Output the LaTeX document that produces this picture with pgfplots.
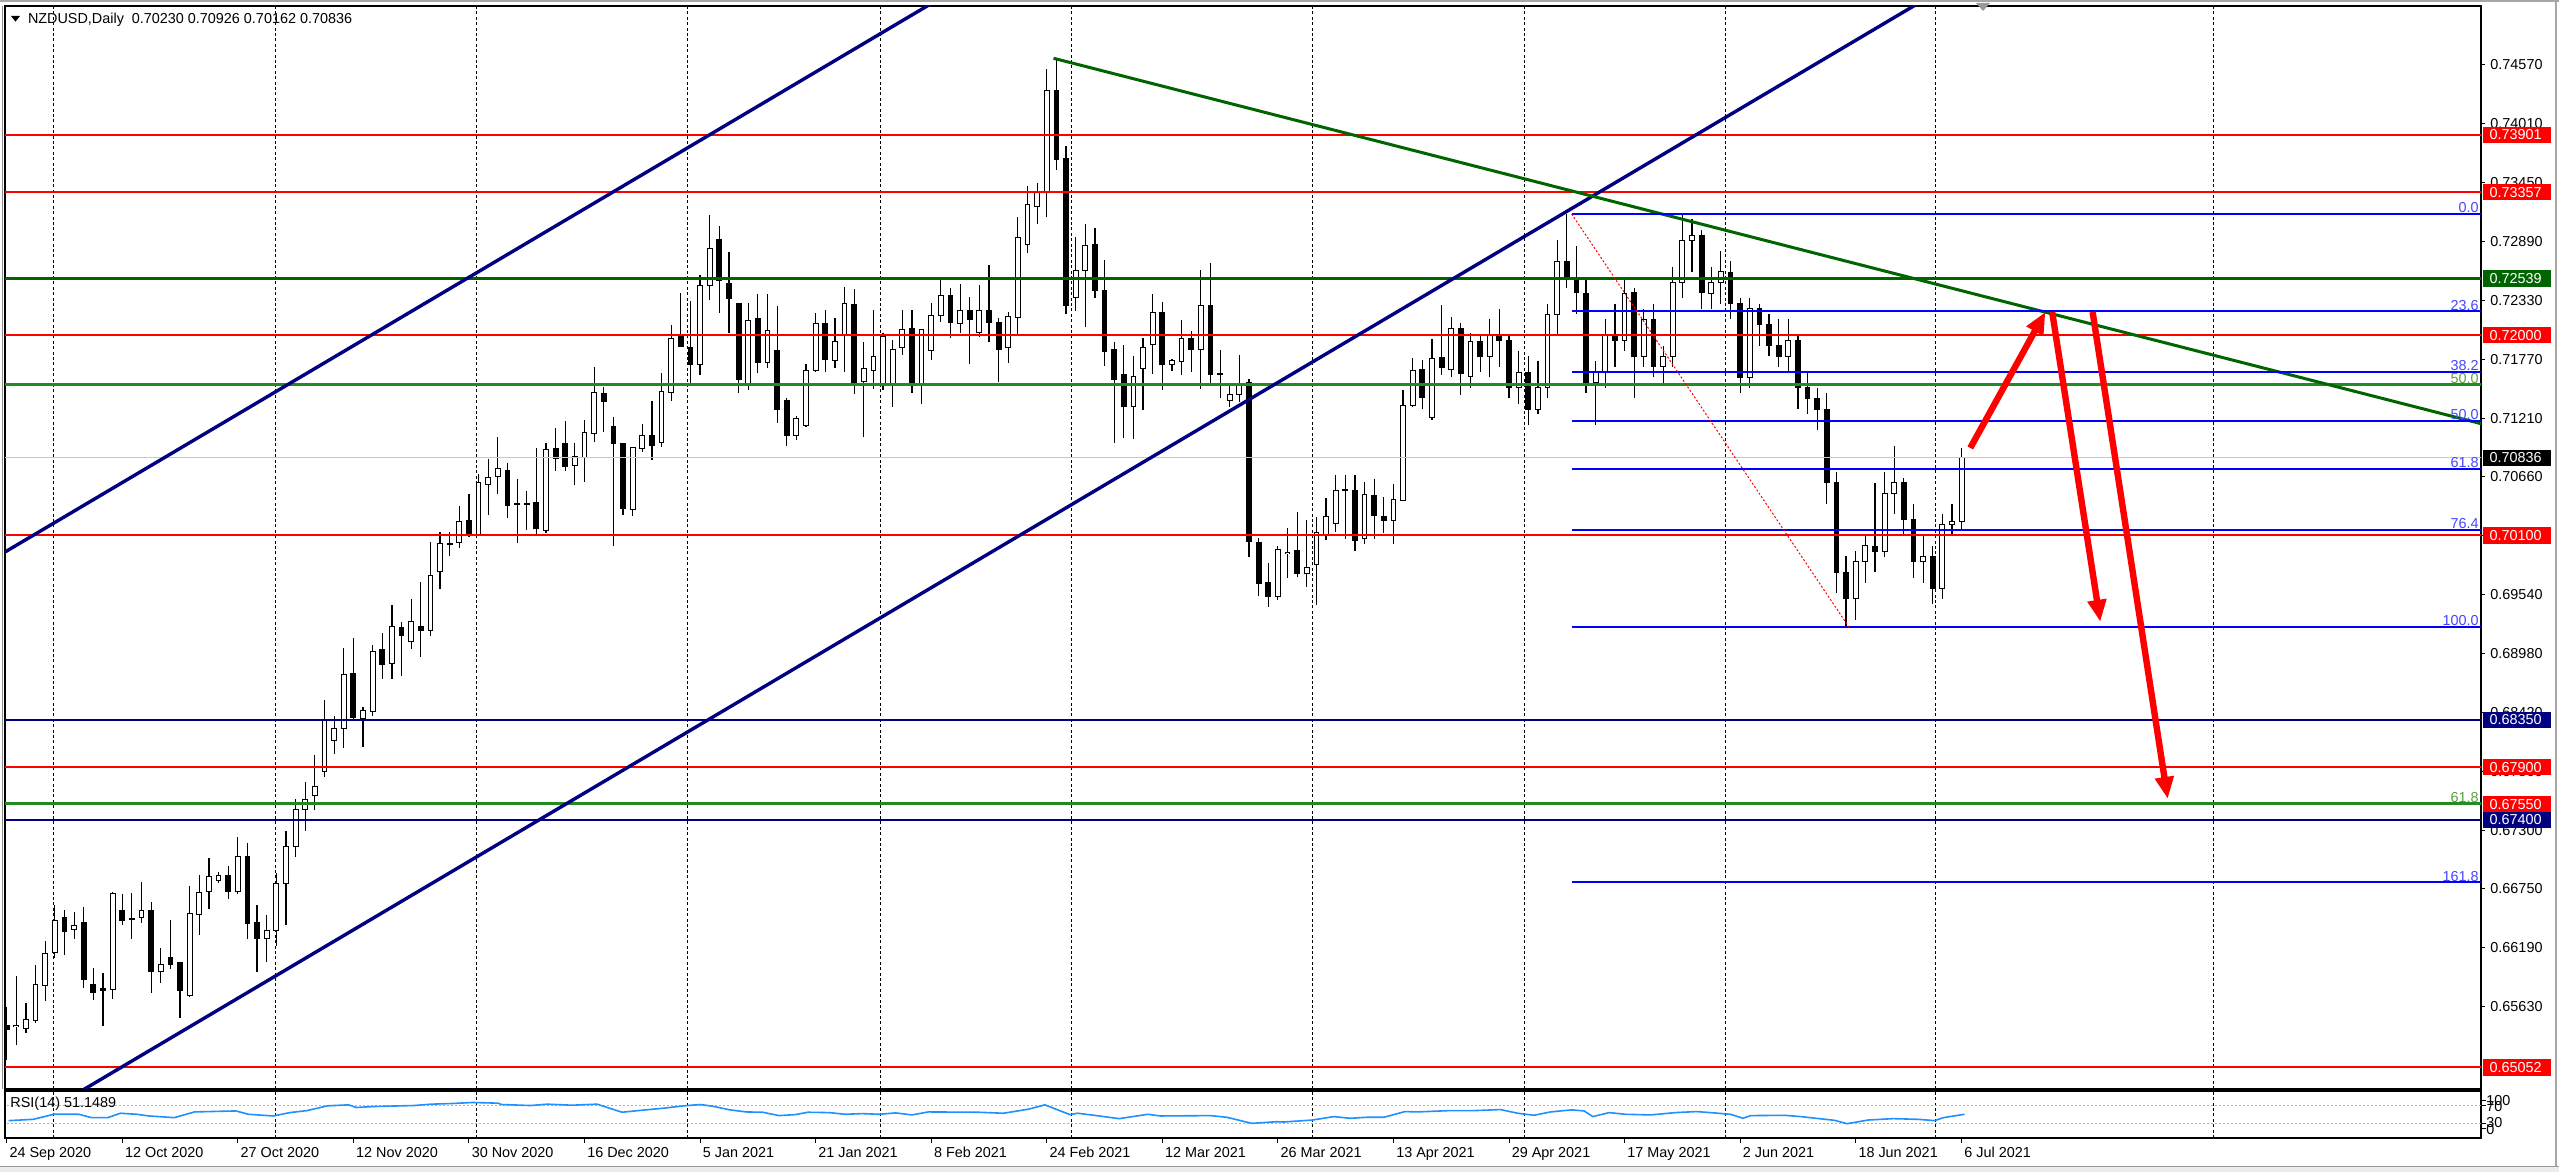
\documentclass[border=0pt]{standalone}
\usepackage{fontspec}
\setmainfont{Liberation Sans}
\usepackage{pgfplots}
\usepackage{pgfplotstable}
\pgfplotsset{compat=1.18}
\usetikzlibrary{arrows.meta}

\definecolor{mtnavy}{RGB}{0,0,128}
\definecolor{mtdkgreen}{RGB}{0,100,0}
\definecolor{mtgreen}{RGB}{34,139,34}
\definecolor{fibblue}{RGB}{0,0,255}
\definecolor{fibtxt}{RGB}{70,70,255}
\definecolor{fibgreen}{RGB}{90,160,60}
\definecolor{rsiblue}{RGB}{30,144,255}
\definecolor{pricegray}{RGB}{200,200,200}

\newcommand{\lab}{\fontsize{7.2}{8}\selectfont}

\pgfplotstableread{
i o h l c
0 0.65455 0.65629 0.65123 0.65414
1 0.65439 0.65920 0.65265 0.65452
2 0.65423 0.65667 0.65376 0.65508
3 0.65502 0.66021 0.65477 0.65841
4 0.65834 0.66252 0.65682 0.66135
5 0.66144 0.66593 0.66087 0.66451
6 0.66476 0.66546 0.66119 0.66347
7 0.66362 0.66530 0.66271 0.66404
8 0.66429 0.66578 0.65809 0.65891
9 0.65841 0.65999 0.65692 0.65765
10 0.65803 0.65954 0.65445 0.65780
11 0.65793 0.66720 0.65698 0.66704
12 0.66546 0.66695 0.66404 0.66451
13 0.66464 0.66704 0.66268 0.66454
14 0.66473 0.66815 0.66426 0.66540
15 0.66546 0.66625 0.65755 0.65961
16 0.65961 0.66182 0.65856 0.66030
17 0.66100 0.66457 0.65992 0.66030
18 0.66046 0.66056 0.65518 0.65780
19 0.65739 0.66777 0.65723 0.66511
20 0.66508 0.66878 0.66315 0.66713
21 0.66726 0.67036 0.66552 0.66862
22 0.66827 0.66910 0.66805 0.66875
23 0.66872 0.66967 0.66653 0.66720
24 0.66720 0.67242 0.66698 0.67055
25 0.67055 0.67178 0.66268 0.66416
26 0.66429 0.66593 0.65961 0.66277
27 0.66280 0.66500 0.66050 0.66350
28 0.66350 0.66900 0.66200 0.66800
29 0.66800 0.67300 0.66400 0.67150
30 0.67150 0.67600 0.67050 0.67500
31 0.67500 0.67764 0.67300 0.67600
32 0.67631 0.68017 0.67500 0.67717
33 0.67865 0.68539 0.67805 0.68343
34 0.68159 0.68387 0.68027 0.68270
35 0.68264 0.69029 0.68080 0.68776
36 0.68792 0.69130 0.68343 0.68371
37 0.68365 0.68476 0.68090 0.68438
38 0.68428 0.69061 0.68390 0.69004
39 0.69014 0.69178 0.68739 0.68878
40 0.68887 0.69440 0.68739 0.69241
41 0.69228 0.69282 0.68770 0.69149
42 0.69092 0.69494 0.69020 0.69282
43 0.69241 0.69662 0.68950 0.69203
44 0.69203 0.70041 0.69146 0.69719
45 0.69763 0.70130 0.69589 0.70025
46 0.70019 0.70130 0.69905 0.70025
47 0.70035 0.70383 0.69978 0.70231
48 0.70247 0.70494 0.70082 0.70111
49 0.70111 0.70683 0.70095 0.70604
50 0.70585 0.70822 0.70294 0.70652
51 0.70664 0.71037 0.70490 0.70731
52 0.70721 0.70784 0.70263 0.70389
53 0.70405 0.70636 0.70032 0.70398
54 0.70398 0.70525 0.70152 0.70405
55 0.70414 0.70927 0.70105 0.70168
56 0.70152 0.70980 0.70120 0.70920
57 0.70920 0.71123 0.70715 0.70832
58 0.70968 0.71189 0.70715 0.70753
59 0.70762 0.70973 0.70578 0.70847
60 0.70841 0.71195 0.70610 0.71075
61 0.71068 0.71701 0.70989 0.71454
62 0.71442 0.71511 0.71084 0.71366
63 0.71132 0.71227 0.70000 0.70967
64 0.70973 0.70980 0.70294 0.70357
65 0.70351 0.70942 0.70285 0.70936
66 0.70927 0.71154 0.70889 0.71047
67 0.71053 0.71376 0.70816 0.70958
68 0.70980 0.71638 0.70942 0.71464
69 0.71461 0.72102 0.71378 0.71970
70 0.71992 0.72397 0.71890 0.71897
71 0.71881 0.72324 0.71527 0.71720
72 0.71723 0.72571 0.71622 0.72469
73 0.72476 0.73140 0.72333 0.72824
74 0.72903 0.73035 0.72216 0.72523
75 0.72492 0.72792 0.72017 0.72349
76 0.72302 0.72311 0.71448 0.71581
77 0.71543 0.72302 0.71480 0.72144
78 0.72159 0.72387 0.71638 0.71739
79 0.71742 0.72387 0.71685 0.72042
80 0.71850 0.72280 0.71163 0.71290
81 0.71385 0.71400 0.70948 0.71046
82 0.71046 0.71230 0.71005 0.71208
83 0.71148 0.71726 0.71132 0.71663
84 0.71663 0.72213 0.71653 0.72109
85 0.72112 0.72238 0.71653 0.71774
86 0.71758 0.72159 0.71685 0.71938
87 0.72008 0.72460 0.71647 0.72302
88 0.72292 0.72435 0.71442 0.71552
89 0.71559 0.71938 0.71037 0.71685
90 0.71663 0.72238 0.71486 0.71802
91 0.71543 0.72017 0.71480 0.71985
92 0.71543 0.71954 0.71321 0.71868
93 0.71881 0.72238 0.71812 0.72055
94 0.72065 0.72238 0.71448 0.71543
95 0.71543 0.72049 0.71347 0.72049
96 0.71859 0.72302 0.71764 0.72191
97 0.72191 0.72530 0.72128 0.72381
98 0.72381 0.72444 0.71970 0.72118
99 0.72112 0.72485 0.72023 0.72232
100 0.72232 0.72359 0.71732 0.72153
101 0.72027 0.72476 0.71985 0.72232
102 0.72232 0.72665 0.71938 0.72118
103 0.72118 0.72159 0.71558 0.71865
104 0.71881 0.72223 0.71739 0.72175
105 0.72166 0.73124 0.72001 0.72928
106 0.72861 0.73415 0.72785 0.73244
107 0.73225 0.73440 0.73051 0.73361
108 0.73355 0.74522 0.73117 0.74326
109 0.74326 0.74626 0.73573 0.73668
110 0.73677 0.73794 0.72200 0.72286
111 0.72355 0.72934 0.72232 0.72618
112 0.72618 0.73054 0.72074 0.72849
113 0.72861 0.73019 0.72349 0.72428
114 0.72428 0.72713 0.71707 0.71843
115 0.71859 0.71938 0.70973 0.71580
116 0.71631 0.71906 0.71027 0.71321
117 0.71321 0.71802 0.71014 0.71606
118 0.71685 0.71970 0.71290 0.71881
119 0.71916 0.72396 0.71631 0.72213
120 0.72213 0.72317 0.71479 0.71723
121 0.71723 0.71770 0.71663 0.71758
122 0.71754 0.72143 0.71622 0.71970
123 0.71970 0.72042 0.71647 0.71865
124 0.71865 0.72624 0.71495 0.72279
125 0.72279 0.72681 0.71543 0.71628
126 0.71634 0.71859 0.71400 0.71622
127 0.71378 0.71520 0.71321 0.71438
128 0.71442 0.71812 0.71362 0.71543
129 0.71549 0.71581 0.69892 0.70040
130 0.70034 0.70072 0.69525 0.69645
131 0.69652 0.69841 0.69418 0.69525
132 0.69525 0.70000 0.69487 0.69968
133 0.69924 0.70167 0.69693 0.69936
134 0.69955 0.70325 0.69702 0.69740
135 0.69740 0.70246 0.69614 0.69797
136 0.69829 0.70278 0.69440 0.70126
137 0.70113 0.70461 0.70063 0.70278
138 0.70214 0.70673 0.70135 0.70531
139 0.70540 0.70673 0.70063 0.70524
140 0.70531 0.70673 0.69952 0.70056
141 0.70072 0.70610 0.70018 0.70493
142 0.70483 0.70641 0.70072 0.70294
143 0.70278 0.70468 0.70120 0.70240
144 0.70240 0.70585 0.70018 0.70445
145 0.70436 0.71479 0.70430 0.71337
146 0.71337 0.71780 0.71321 0.71669
147 0.71669 0.71764 0.71296 0.71410
148 0.71217 0.71963 0.71195 0.71780
149 0.71789 0.72286 0.71622 0.71695
150 0.71676 0.72169 0.71600 0.72065
151 0.72065 0.72112 0.71432 0.71638
152 0.71612 0.72017 0.71495 0.71938
153 0.71940 0.72000 0.71650 0.71800
154 0.71800 0.72150 0.71600 0.72000
155 0.72000 0.72250 0.71700 0.71950
156 0.71950 0.72000 0.71400 0.71500
157 0.71500 0.71850 0.71350 0.71650
158 0.71650 0.71800 0.71150 0.71300
159 0.71300 0.71750 0.71250 0.71500
160 0.71500 0.72300 0.71400 0.72200
161 0.72200 0.72900 0.72000 0.72700
162 0.72700 0.73150 0.72450 0.72550
163 0.72550 0.72850 0.72200 0.72400
164 0.72400 0.72550 0.71450 0.71550
165 0.71550 0.71750 0.71150 0.71650
166 0.71650 0.72150 0.71500 0.72000
167 0.72000 0.72300 0.71700 0.71950
168 0.71950 0.72550 0.71850 0.72400
169 0.72400 0.72450 0.71400 0.71800
170 0.71800 0.72250 0.71700 0.72150
171 0.72150 0.72300 0.71600 0.71700
172 0.71700 0.71900 0.71550 0.71800
173 0.71800 0.72650 0.71700 0.72500
174 0.72500 0.73160 0.72350 0.72900
175 0.72900 0.73100 0.72600 0.72950
176 0.72950 0.73000 0.72250 0.72400
177 0.72400 0.72650 0.72250 0.72500
178 0.72500 0.72800 0.72300 0.72600
179 0.72600 0.72700 0.72150 0.72300
180 0.72300 0.72350 0.71450 0.71600
181 0.71600 0.72350 0.71500 0.72250
182 0.72250 0.72300 0.71900 0.72100
183 0.72100 0.72200 0.71800 0.71900
184 0.71900 0.72150 0.71700 0.71800
185 0.71800 0.72150 0.71650 0.71950
186 0.71950 0.72000 0.71300 0.71500
187 0.71500 0.71650 0.71250 0.71400
188 0.71400 0.71500 0.71100 0.71300
189 0.71300 0.71450 0.70400 0.70600
190 0.70600 0.70700 0.69550 0.69750
191 0.69750 0.69900 0.69230 0.69500
192 0.69500 0.69950 0.69300 0.69850
193 0.69850 0.70100 0.69650 0.70000
194 0.70000 0.70600 0.69750 0.69950
195 0.69950 0.70700 0.69900 0.70500
196 0.70500 0.70950 0.70300 0.70600
197 0.70600 0.70650 0.70100 0.70250
198 0.70250 0.70400 0.69700 0.69850
199 0.69850 0.70100 0.69650 0.69900
200 0.69900 0.70000 0.69450 0.69600
201 0.69600 0.70300 0.69500 0.70200
202 0.70200 0.70400 0.70100 0.70230
203 0.70230 0.70926 0.70162 0.70836
}\candles

\pgfplotstableread{
i v
0.2 36.7
2.75 39.6
4.9 50.7
7.5 50.7
8.8 43.3
10.5 43.3
11.8 53.0
13.5 50.7
14.8 47.0
17.4 43.3
19.5 55.9
23.8 58.1
25.1 50.7
27.7 47.0
29.4 54.4
31.2 58.9
33.3 69.3
35.5 71.5
36.3 65.6
38.1 67.8
42.3 70.0
44.1 73.0
46.2 74.4
48.4 76.7
51.0 75.2
51.4 72.2
54.4 70.0
56.1 73.0
58.7 70.7
61.3 73.0
63.9 55.2
65.6 58.9
68.2 64.1
70.3 69.3
72.0 72.2
73.3 68.5
75.1 60.4
76.8 55.9
78.5 55.2
80.2 47.8
81.9 50.0
83.2 55.2
85.4 54.4
87.1 50.7
88.8 52.2
90.6 50.7
92.3 53.7
94.0 49.3
95.7 55.9
100.9 55.2
103.5 53.0
106.1 61.9
107.8 71.5
110.4 50.0
111.2 53.0
112.9 48.5
115.5 41.1
118.5 50.7
119.8 47.0
125.0 47.8
126.7 44.1
129.3 30.7
131.9 34.4
132.6 33.7
135.6 38.1
137.8 45.6
139.5 41.9
141.2 44.1
143.0 44.1
145.2 56.7
146.5 55.9
149.9 58.9
152.5 58.9
155.1 61.1
156.9 53.0
158.6 48.5
160.3 55.9
162.5 60.4
163.8 58.1
164.7 45.6
166.4 54.4
168.1 50.7
170.7 49.3
173.3 54.4
175.5 56.7
177.7 53.0
179.0 50.7
180.3 41.9
181.1 47.8
184.6 48.5
186.3 45.6
189.8 37.4
191.1 30.0
193.3 38.1
195.9 41.1
198.5 39.6
200.2 36.7
201.1 43.3
203.3 50.7
}\rsi

\newcommand{\pbox}[3]{\node[anchor=west, fill=#2, text=white, font=\lab, inner xsep=3.5pt, inner ysep=0pt, minimum height=8.2pt, text width=27pt, align=left, xshift=0.6pt] at (#1) {#3};}

\begin{document}
\begin{tikzpicture}
\path[use as bounding box] (0pt,0pt) rectangle (1279.5pt,586pt);
\fill[white] (0pt,0pt) rectangle (1279.5pt,586pt);
\draw[black!35, line width=1pt] (0pt,585.5pt) -- (1279.5pt,585.5pt);
\draw[black!35, line width=1pt] (1278pt,0pt) -- (1278pt,586pt);
\fill[black!8] (0pt,0pt) rectangle (1279.5pt,2.8pt);
\draw[black!40, line width=0.5pt] (0pt,2.8pt) -- (1279.5pt,2.8pt);
\draw[black!45, line width=0.5pt] (1.3pt,41.5pt) -- (1.3pt,583pt);

\begin{axis}[
  at={(2.5pt,41.5pt)}, anchor=south west,
  scale only axis, width=1238pt, height=541.5pt,
  xmin=-0.177, xmax=256.937, ymin=0.648478, ymax=0.751230,
  axis line style={black, line width=0.6pt},
  clip mode=individual,
  xtick={4.9,27.9,48.8,70.7,90.7,110.6,135.6,157.6,178.5,200.3,229.2},
  xticklabels={}, xtick style={draw=none},
  xmajorgrids,
  major grid style={black, line width=0.5pt, dash pattern=on 1.5pt off 1.2pt},
  ytick={0.74570,0.74010,0.73450,0.72890,0.72330,0.71770,0.71210,0.70660,0.70100,0.69540,0.68980,0.68420,0.67860,0.67300,0.66750,0.66190,0.65630},
  yticklabels={0.74570,0.74010,0.73450,0.72890,0.72330,0.71770,0.71210,0.70660,0.70100,0.69540,0.68980,0.68420,0.67860,0.67300,0.66750,0.66190,0.65630},
  ytick pos=right, yticklabel pos=right,
  ytick style={black, line width=0.5pt},
  tick align=outside, major tick length=2pt,
  yticklabel style={font=\lab, anchor=west, inner sep=0pt, xshift=2.5pt},
]
\addplot[draw=none, mark=none, forget plot,
  error bars/.cd, y dir=both, y explicit, error mark=none,
  error bar style={draw=black, line width=0.6pt, solid}]
  table[x=i, y expr={(\thisrow{h}+\thisrow{l})/2}, y error expr={(\thisrow{h}-\thisrow{l})/2}] {\candles};
\addplot[draw=none, mark=none, forget plot,
  error bars/.cd, y dir=both, y explicit, error mark=none,
  error bar style={draw=black, line width=2.9pt, solid}]
  table[x=i, y expr={(\thisrow{o}+\thisrow{c})/2}, y error expr={max(abs(\thisrow{o}-\thisrow{c})/2,0.00004)+0.0000475}] {\candles};
\addplot[draw=none, mark=none, forget plot, unbounded coords=discard,
  error bars/.cd, y dir=both, y explicit, error mark=none,
  error bar style={draw=white, line width=1.9pt, solid}]
  table[x=i, y expr={\thisrow{c}>\thisrow{o} ? (\thisrow{o}+\thisrow{c})/2 : nan}, y error expr={max(abs(\thisrow{o}-\thisrow{c})/2-0.0000475,0)}] {\candles};

\addplot[pricegray, line width=0.5pt] coordinates {(-5,0.70836) (260,0.70836)};
\addplot[red, line width=1pt] coordinates {(-5,0.73901) (260,0.73901)};
\addplot[red, line width=1pt] coordinates {(-5,0.73357) (260,0.73357)};
\addplot[mtdkgreen, line width=1.2pt] coordinates {(-5,0.72539) (260,0.72539)};
\addplot[red, line width=1pt] coordinates {(-5,0.72000) (260,0.72000)};
\addplot[mtgreen, line width=1.5pt] coordinates {(-5,0.71531) (260,0.71531)};
\addplot[red, line width=1pt] coordinates {(-5,0.70100) (260,0.70100)};
\addplot[mtnavy, line width=1pt] coordinates {(-5,0.68350) (260,0.68350)};
\addplot[red, line width=1pt] coordinates {(-5,0.67900) (260,0.67900)};
\addplot[red, line width=1pt] coordinates {(-5,0.67550) (260,0.67550)};
\addplot[mtgreen, line width=1.5pt] coordinates {(-5,0.67556) (260,0.67556)};
\addplot[mtnavy, line width=1pt] coordinates {(-5,0.67400) (260,0.67400)};
\addplot[red, line width=1pt] coordinates {(-5,0.65052) (260,0.65052)};
\addplot[mtnavy, line width=1.7pt] coordinates {(-1,0.69898) (110,0.75903)};
\addplot[mtnavy, line width=1.7pt] coordinates {(-1,0.64356) (200,0.75230)};
\addplot[mtdkgreen, line width=1.5pt] coordinates {(108.7,0.74627) (256.937,0.71160)};
\addplot[fibblue, line width=1pt] coordinates {(162.5,0.73150) (260,0.73150)};
\addplot[fibblue, line width=1pt] coordinates {(162.5,0.72225) (260,0.72225)};
\addplot[fibblue, line width=1pt] coordinates {(162.5,0.71653) (260,0.71653)};
\addplot[fibblue, line width=1pt] coordinates {(162.5,0.71190) (260,0.71190)};
\addplot[fibblue, line width=1pt] coordinates {(162.5,0.70727) (260,0.70727)};
\addplot[fibblue, line width=1pt] coordinates {(162.5,0.70155) (260,0.70155)};
\addplot[fibblue, line width=1pt] coordinates {(162.5,0.69230) (260,0.69230)};
\addplot[fibblue, line width=1pt] coordinates {(162.5,0.66807) (260,0.66807)};
\addplot[red, line width=0.5pt, dash pattern=on 1pt off 1pt] coordinates {(162.5,0.73150) (191.3,0.69230)};
\addplot[red, line width=3.2pt, -{Triangle[length=11pt,width=9pt]}] coordinates {(203.9,0.70930) (211.7,0.72220)};
\addplot[red, line width=3.2pt, -{Triangle[length=11pt,width=9pt]}] coordinates {(212.4,0.72220) (217.4,0.69280)};
\addplot[red, line width=3.2pt, -{Triangle[length=11pt,width=9pt]}] coordinates {(216.6,0.72220) (224.4,0.67600)};

\node[anchor=south east, text=fibtxt, font=\lab, inner sep=0.4pt] at (axis cs:256.8,0.73150) {0.0};
\node[anchor=south east, text=fibtxt, font=\lab, inner sep=0.4pt] at (axis cs:256.8,0.72225) {23.6};
\node[anchor=south east, text=fibtxt, font=\lab, inner sep=0.4pt] at (axis cs:256.8,0.71653) {38.2};
\node[anchor=south east, text=fibgreen, font=\lab, inner sep=0.4pt] at (axis cs:256.8,0.71531) {50.0};
\node[anchor=south east, text=fibtxt, font=\lab, inner sep=0.4pt] at (axis cs:256.8,0.71190) {50.0};
\node[anchor=south east, text=fibtxt, font=\lab, inner sep=0.4pt] at (axis cs:256.8,0.70727) {61.8};
\node[anchor=south east, text=fibtxt, font=\lab, inner sep=0.4pt] at (axis cs:256.8,0.70155) {76.4};
\node[anchor=south east, text=fibtxt, font=\lab, inner sep=0.4pt] at (axis cs:256.8,0.69230) {100.0};
\node[anchor=south east, text=fibgreen, font=\lab, inner sep=0.4pt] at (axis cs:256.8,0.67556) {61.8};
\node[anchor=south east, text=fibtxt, font=\lab, inner sep=0.4pt] at (axis cs:256.8,0.66807) {161.8};

\coordinate (b1) at (axis cs:256.937,0.73901);
\coordinate (b2) at (axis cs:256.937,0.73357);
\coordinate (b3) at (axis cs:256.937,0.72539);
\coordinate (b4) at (axis cs:256.937,0.72000);
\coordinate (b5) at (axis cs:256.937,0.70836);
\coordinate (b6) at (axis cs:256.937,0.70100);
\coordinate (b7) at (axis cs:256.937,0.68350);
\coordinate (b8) at (axis cs:256.937,0.67900);
\coordinate (b9) at (axis cs:256.937,0.67550);
\coordinate (b10) at (axis cs:256.937,0.67400);
\coordinate (b11) at (axis cs:256.937,0.65052);
\end{axis}

\pbox{b1}{red}{0.73901}
\pbox{b2}{red}{0.73357}
\pbox{b3}{mtdkgreen}{0.72539}
\pbox{b4}{red}{0.72000}
\pbox{b5}{black}{0.70836}
\pbox{b6}{red}{0.70100}
\pbox{b7}{mtnavy}{0.68350}
\pbox{b8}{red}{0.67900}
\pbox{b9}{red}{0.67550}
\pbox{b10}{mtnavy}{0.67400}
\pbox{b11}{red}{0.65052}

\fill[black] (5.5pt,578pt) -- (10pt,578pt) -- (7.75pt,575.2pt) -- cycle;
\node[anchor=base west, font=\lab, inner sep=0pt] at (13.8pt,574.3pt) {NZDUSD,Daily\hspace{0.55em}0.70230 0.70926 0.70162 0.70836};
\fill[black!40] (988pt,584.5pt) -- (995pt,584.5pt) -- (991.5pt,580.5pt) -- cycle;

\begin{axis}[
  at={(2.5pt,17pt)}, anchor=south west,
  scale only axis, width=1238pt, height=23.5pt,
  xmin=-0.177, xmax=256.937, ymin=-1.5, ymax=102,
  axis line style={black, line width=0.6pt},
  clip mode=individual,
  ytick={19,30,70,80}, yticklabels={},
  ytick pos=right,
  ytick style={black, line width=0.5pt},
  xtick={0,12,24,36,48,60,72,84,96,108,120,132,144,156,168,180,192,203},
  xticklabels={24 Sep 2020,12 Oct 2020,27 Oct 2020,12 Nov 2020,30 Nov 2020,16 Dec 2020,5 Jan 2021,21 Jan 2021,8 Feb 2021,24 Feb 2021,12 Mar 2021,26 Mar 2021,13 Apr 2021,29 Apr 2021,17 May 2021,2 Jun 2021,18 Jun 2021,6 Jul 2021},
  xtick pos=bottom,
  xtick style={black, line width=0.5pt},
  xticklabel style={font=\lab, anchor=north west, inner sep=0pt, xshift=1.2pt, yshift=-2pt},
  tick align=outside, major tick length=2.5pt,
  extra x ticks={4.9,27.9,48.8,70.7,90.7,110.6,135.6,157.6,178.5,200.3,229.2},
  extra x tick labels={},
  extra x tick style={grid=major, tick style={draw=none}},
  major grid style={black, line width=0.5pt, dash pattern=on 1.5pt off 1.2pt},
]
\addplot[black!30, line width=0.5pt, dash pattern=on 1pt off 1pt] coordinates {(-5,30) (260,30)};
\addplot[black!30, line width=0.5pt, dash pattern=on 1pt off 1pt] coordinates {(-5,70) (260,70)};
\addplot[rsiblue, line width=0.8pt] table[x=i, y=v] {\rsi};
\node[anchor=west, font=\lab, inner sep=0pt] at (axis cs:0.35,73) {RSI(14) 51.1489};
\node[anchor=west, font=\lab, inner sep=0pt, xshift=2.5pt] at (axis cs:256.937,82) {100};
\node[anchor=west, font=\lab, inner sep=0pt, xshift=2.5pt] at (axis cs:256.937,68) {70};
\node[anchor=west, font=\lab, inner sep=0pt, xshift=2.5pt] at (axis cs:256.937,32) {30};
\node[anchor=west, font=\lab, inner sep=0pt, xshift=2.5pt] at (axis cs:256.937,17) {0};
\end{axis}
\end{tikzpicture}
\end{document}
